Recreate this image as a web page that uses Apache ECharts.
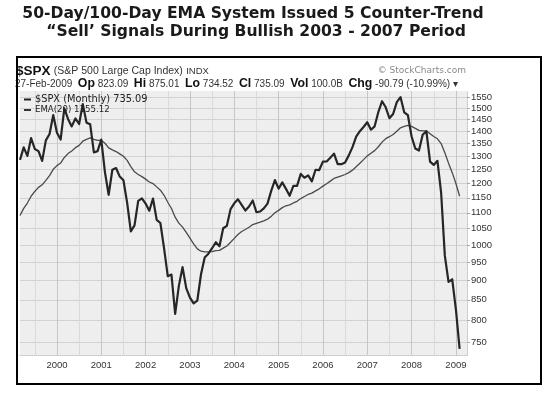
<!DOCTYPE html>
<html>
<head>
<meta charset="utf-8">
<script src="https://cdn.jsdelivr.net/npm/echarts@6/dist/echarts.min.js"></script>
<style>
  html, body { margin: 0; padding: 0; background: #fff; }
  #chart { width: 550px; height: 397px; }
</style>
</head>
<body>
<div id="chart"></div>
<script>
// monthly closes of $SPX, Mar 1999 .. Feb 2009
const spxClose = [
  1286.4, 1335.2, 1301.8, 1372.7, 1328.7, 1320.4, 1282.7, 1362.9, 1389.0, 1469.3,
  1394.5, 1366.4, 1498.6, 1452.4, 1420.6, 1454.6, 1430.8, 1517.7, 1436.5, 1429.4, 1315.2, 1320.3,
  1366.0, 1239.9, 1160.3, 1249.5, 1255.8, 1224.4, 1211.2, 1133.6, 1040.9, 1059.8, 1139.5, 1148.1,
  1130.2, 1106.7, 1147.4, 1076.9, 1067.1, 989.8, 911.6, 916.1, 815.3, 885.8, 936.3, 879.8,
  855.7, 841.2, 848.2, 916.9, 963.6, 974.5, 990.3, 1008.0, 996.0, 1050.7, 1058.2, 1111.9,
  1131.1, 1144.9, 1126.2, 1107.3, 1120.7, 1140.8, 1101.7, 1104.2, 1114.6, 1130.2, 1173.8, 1211.9,
  1181.3, 1203.6, 1180.6, 1156.9, 1191.5, 1191.3, 1234.2, 1220.3, 1228.8, 1207.0, 1249.5, 1248.3,
  1280.1, 1280.7, 1294.9, 1310.6, 1270.1, 1270.2, 1276.7, 1303.8, 1335.9, 1377.9, 1400.6, 1418.3,
  1438.2, 1406.8, 1420.9, 1482.4, 1530.6, 1503.4, 1455.3, 1474.0, 1526.8, 1549.4, 1481.1, 1468.4,
  1378.6, 1330.6, 1322.7, 1385.6, 1400.4, 1280.0, 1267.4, 1282.8, 1166.4, 968.8, 896.2, 903.3,
  825.9, 735.1
]
// EMA(20) line as drawn
const ema20 = [
  1091.0, 1114.3, 1132.2, 1155.1, 1171.6, 1185.8, 1195.0, 1211.0, 1228.0, 1251.0,
  1264.7, 1274.4, 1295.8, 1310.7, 1321.2, 1333.9, 1343.1, 1359.7, 1367.0, 1372.9, 1367.4, 1362.9,
  1363.2, 1351.5, 1333.3, 1325.3, 1318.7, 1309.7, 1300.3, 1284.4, 1261.2, 1242.0, 1232.2, 1224.2,
  1215.2, 1204.9, 1199.4, 1187.7, 1176.2, 1158.4, 1134.9, 1114.1, 1085.6, 1066.6, 1054.2, 1037.6,
  1020.3, 1003.2, 988.4, 981.6, 979.9, 979.4, 980.4, 983.0, 984.2, 990.5, 996.9, 1007.9,
  1019.6, 1031.5, 1040.5, 1046.9, 1053.9, 1062.2, 1066.0, 1069.6, 1073.9, 1079.3, 1088.3, 1100.1,
  1107.8, 1116.9, 1123.0, 1126.2, 1132.4, 1138.0, 1147.2, 1154.2, 1161.3, 1165.7, 1173.7, 1180.8,
  1190.3, 1198.9, 1208.0, 1217.8, 1222.8, 1227.3, 1232.0, 1238.8, 1248.0, 1260.4, 1273.8, 1287.6,
  1301.9, 1311.9, 1322.3, 1337.5, 1355.9, 1369.9, 1378.0, 1387.1, 1400.4, 1414.6, 1420.9, 1425.4,
  1420.9, 1412.3, 1403.8, 1402.1, 1401.9, 1390.3, 1378.6, 1369.5, 1350.2, 1313.9, 1274.1, 1238.8,
  1199.5, 1155.1
]
const legendValues = { '$SPX (Monthly)': '735.09', 'EMA(20)': '1155.12' }
const yTicks = [750, 800, 850, 900, 950, 1000, 1050, 1100, 1150, 1200, 1250, 1300, 1350, 1400, 1450, 1500, 1550]
const yMin = 721.8
const yMax = 1577.7

// month categories, Mar 1999 .. Apr 2009 (axis runs a little past the last close)
const startYear = 1999
const startMonth = 3
const monthCount = 122
const months = []
for (let i = 0; i < monthCount; i++) {
  const m = startMonth - 1 + i
  months.push((startYear + Math.floor(m / 12)) + '-' + String(m % 12 + 1).padStart(2, '0'))
}

const sans = '"Liberation Sans", Arial, sans-serif'
const verdana = '"DejaVu Sans", Verdana, sans-serif'

const chart = echarts.init(document.getElementById('chart'))
chart.setOption({
  backgroundColor: '#fff',
  animation: false,
  grid: {
    left: 20, right: 83, top: 91, bottom: 42,
    show: true, backgroundColor: '#eeeeee', borderWidth: 0
  },
  legend: {
    orient: 'vertical',
    left: 19, top: 89,
    itemGap: 0,
    itemWidth: 7, itemHeight: 2,
    icon: 'rect',
    selectedMode: false,
    data: [
      { name: '$SPX (Monthly)', itemStyle: { color: '#222' } },
      { name: 'EMA(20)', itemStyle: { color: '#333' } }
    ],
    formatter: name => (name === 'EMA(20)' ? '{e|' : '{m|') + name + ' ' + legendValues[name] + '}',
    textStyle: {
      color: '#222', padding: [0, 0, 0, -1], lineHeight: 10,
      rich: {
        m: { fontFamily: verdana, fontSize: 9.8, color: '#222', lineHeight: 11 },
        e: { fontFamily: verdana, fontSize: 8.6, color: '#222', lineHeight: 10 }
      }
    }
  },
  xAxis: [{
    type: 'category',
    data: months,
    boundaryGap: false,
    axisLine: { show: true, lineStyle: { color: '#c4c4c4', type: 'dotted' } },
    axisTick: { show: false },
    axisLabel: {
      interval: (i, v) => v.endsWith('-01'),
      formatter: v => v.slice(0, 4),
      color: '#333', fontFamily: sans, fontSize: 9.5, margin: 5
    },
    splitLine: {
      show: true,
      interval: (i, v) => v.endsWith('-01'),
      lineStyle: { color: '#c6c6c6', width: 1 }
    }
  }, {
    type: 'category',
    data: months,
    boundaryGap: false,
    position: 'top',
    axisLine: { show: false },
    axisTick: { show: false },
    axisLabel: { show: false },
    splitLine: {
      show: true,
      interval: (i, v) => v.endsWith('-07'),
      lineStyle: { color: '#dadada', width: 1 }
    }
  }],
  yAxis: {
    type: 'value',
    position: 'right',
    min: Math.log(yMin),
    max: Math.log(yMax),
    axisLine: { show: true, lineStyle: { color: '#c4c4c4', type: 'dotted' } },
    axisTick: {
      show: true, length: 3, inside: false,
      customValues: yTicks.map(v => Math.log(v)),
      lineStyle: { color: '#aaa' }
    },
    axisLabel: {
      customValues: yTicks.map(v => Math.log(v)),
      formatter: v => String(Math.round(Math.exp(v))),
      color: '#333', fontFamily: sans, fontSize: 9.5, margin: 4
    },
    splitLine: { show: true, lineStyle: { color: '#d2d2d2', width: 1 } }
  },
  series: [{
    name: '$SPX (Monthly)',
    type: 'line',
    data: spxClose.map(v => Math.log(v)),
    showSymbol: false,
    lineStyle: { color: '#262626', width: 2.2, join: 'round' },
    itemStyle: { color: '#262626' },
    z: 3
  }, {
    name: 'EMA(20)',
    type: 'line',
    data: ema20.map(v => Math.log(v)),
    showSymbol: false,
    lineStyle: { color: '#4a4a4a', width: 1.3 },
    itemStyle: { color: '#4a4a4a' },
    z: 2
  }],
  graphic: [
    {
      type: 'text', x: 253, y: 14,
      style: {
        text: '50-Day/100-Day EMA System Issued 5 Counter-Trend',
        font: 'bold 15.6px ' + verdana, fill: '#1a1a1a', align: 'center', verticalAlign: 'middle'
      }
    },
    {
      type: 'text', x: 256, y: 31.5,
      style: {
        text: '\u201cSell\u2019 Signals During Bullish 2003 - 2007 Period',
        font: 'bold 15.6px ' + verdana, fill: '#1a1a1a', align: 'center', verticalAlign: 'middle'
      }
    },
    {
      type: 'text', x: 16, y: 71,
      style: {
        text: '{s|$SPX} {n|(S&P 500 Large Cap Index)} {i|INDX}',
        verticalAlign: 'middle',
        rich: {
          s: { font: 'bold 13.5px ' + sans, fill: '#111' },
          n: { font: '10.5px ' + sans, fill: '#333' },
          i: { font: '9.5px ' + sans, fill: '#333' }
        }
      }
    },
    {
      type: 'text', x: 466, y: 71,
      style: {
        text: '\u00a9 StockCharts.com',
        font: '9px ' + verdana, fill: '#8a8a8a', align: 'right', verticalAlign: 'middle'
      }
    },
    {
      type: 'text', x: 15, y: 84,
      style: {
        text: '{d|27-Feb-2009}  {b|Op} {d|823.09}  {b|Hi} {d|875.01}  {b|Lo} {d|734.52}  {b|Cl} {d|735.09}  {b|Vol} {d|100.0B}  {b|Chg} {d|-90.79 (-10.99%)} {d|\u25be}',
        font: '10px ' + sans,
        verticalAlign: 'middle',
        rich: {
          d: { font: '10px ' + sans, fill: '#333' },
          b: { font: 'bold 12.3px ' + sans, fill: '#111' }
        }
      }
    },
    {
      type: 'rect', z: 100,
      shape: { x: 17, y: 57, width: 524, height: 327 },
      style: { fill: 'none', stroke: '#000', lineWidth: 2 }
    }
  ]
})
</script>
</body>
</html>
